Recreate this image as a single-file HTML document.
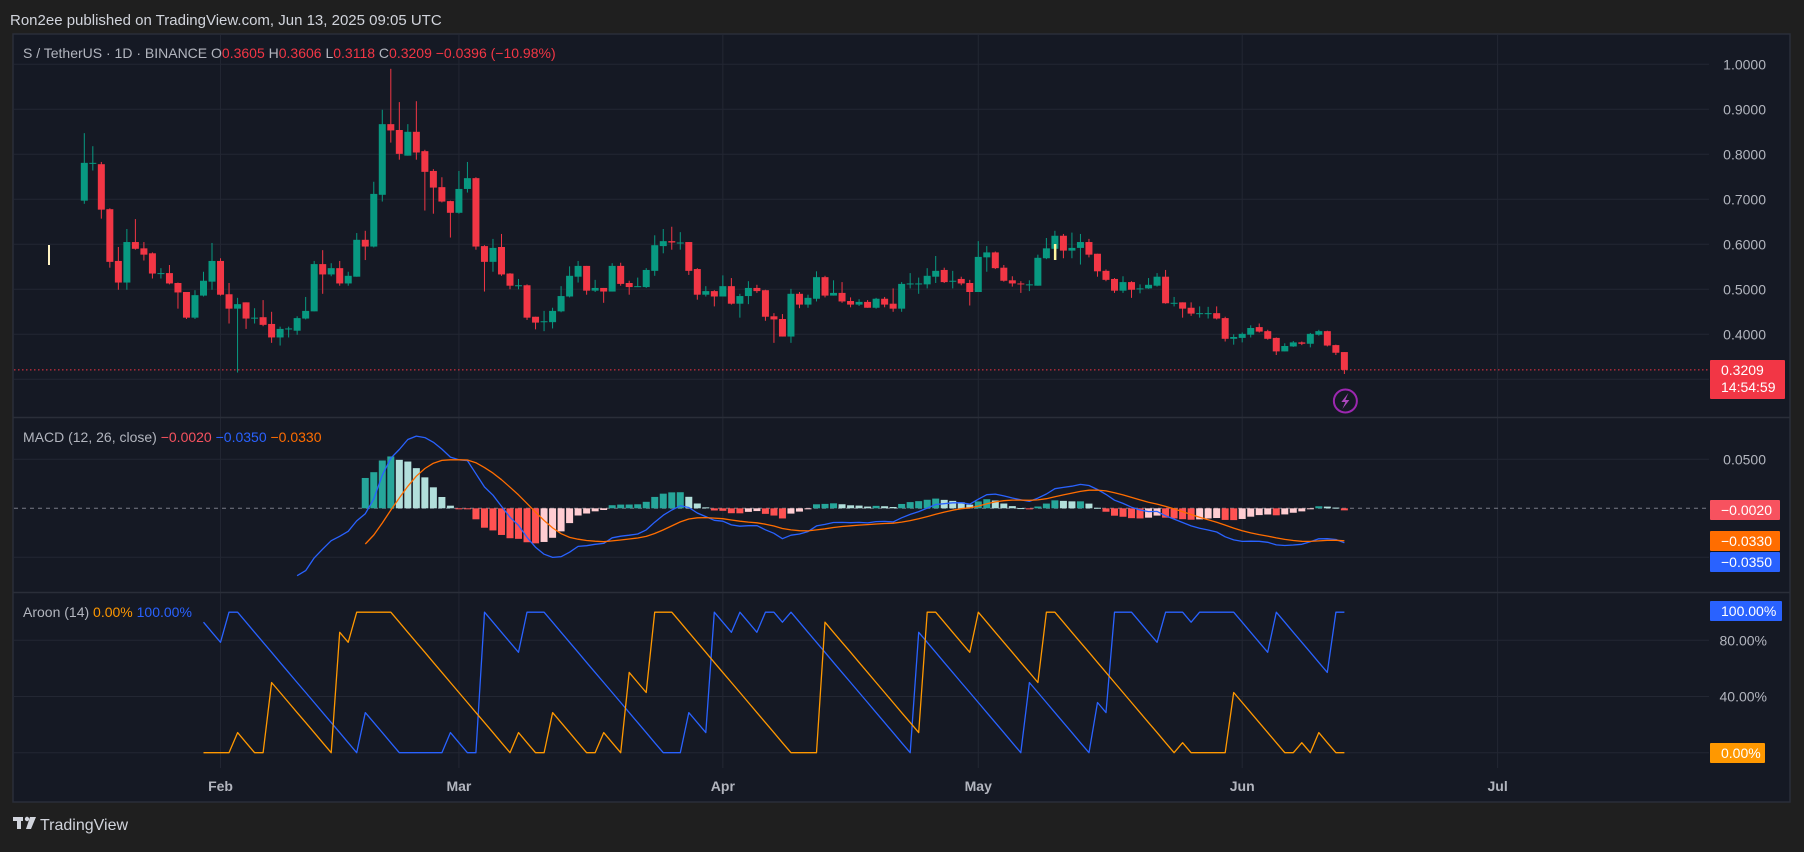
<!DOCTYPE html>
<html><head><meta charset="utf-8">
<style>
html,body{margin:0;padding:0;background:#1f1f1f;}
body{width:1804px;height:847px;overflow:hidden;font-family:"Liberation Sans",sans-serif;}
svg text{font-family:"Liberation Sans",sans-serif;}
</style></head>
<body>
<svg id="chart" width="1804" height="847" viewBox="0 0 1804 847" xmlns="http://www.w3.org/2000/svg">
<rect x="0" y="0" width="1804" height="847" fill="#1f1f1f"/>
<text x="10" y="25" fill="#d1d4dc" font-size="15">Ron2ee published on TradingView.com, Jun 13, 2025 09:05 UTC</text>
<rect x="13" y="34" width="1777" height="768" fill="#151924" stroke="#2a2e39" stroke-width="1.5"/>
<g id="grid"></g>
<line x1="13" y1="417.5" x2="1790" y2="417.5" stroke="#2a2e39" stroke-width="1.5"/>
<line x1="13" y1="592.5" x2="1790" y2="592.5" stroke="#2a2e39" stroke-width="1.5"/>
<g id="price"></g>
<g id="macd"></g>
<g id="aroon"></g>
<g id="axes"></g>
<text x="23" y="58" font-size="14"><tspan fill="#b2b5be">S / TetherUS · 1D · BINANCE  O</tspan><tspan fill="#f23645">0.3605</tspan><tspan fill="#b2b5be">  H</tspan><tspan fill="#f23645">0.3606</tspan><tspan fill="#b2b5be">  L</tspan><tspan fill="#f23645">0.3118</tspan><tspan fill="#b2b5be">  C</tspan><tspan fill="#f23645">0.3209  −0.0396 (−10.98%)</tspan></text>
<text x="23" y="442" font-size="14"><tspan fill="#b2b5be">MACD (12, 26, close)  </tspan><tspan fill="#f7525f">−0.0020  </tspan><tspan fill="#2962ff">−0.0350  </tspan><tspan fill="#ff6d00">−0.0330</tspan></text>
<text x="23" y="617" font-size="14"><tspan fill="#b2b5be">Aroon (14)  </tspan><tspan fill="#ff9800">0.00%  </tspan><tspan fill="#2962ff">100.00%</tspan></text>
<g>
<rect x="13" y="817" width="10" height="4" fill="#d1d4dc"/><rect x="17" y="817" width="4" height="12" fill="#d1d4dc"/><circle cx="27" cy="819" r="2.2" fill="#d1d4dc"/><polygon points="30,817 36,817 31,829 26,829" fill="#d1d4dc"/>
<text x="40" y="830" fill="#d1d4dc" font-size="16">TradingView</text>
</g>
<rect x="48" y="245" width="2" height="20" fill="#fff3c4"/>
</svg>
<script>
const opens=[.697,.780,.778,.678,.563,.515,.605,.591,.580,.536,
.536,.514,.494,.437,.486,.517,.563,.489,.457,.471,
.437,.438,.423,.393,.413,.408,.435,.451,.556,.533,
.547,.513,.528,.610,.595,.710,.867,.854,.797,.850,
.807,.763,.727,.696,.670,.723,.747,.596,.561,.594,
.535,.509,.509,.439,.429,.427,.451,.484,.528,.552,
.497,.503,.495,.552,.514,.507,.505,.541,.596,.607,
.604,.605,.545,.488,.496,.484,.507,.468,.485,.503,
.498,.440,.434,.395,.490,.466,.479,.527,.486,.492,
.474,.466,.472,.459,.479,.468,.457,.513,.513,.511,
.528,.543,.519,.523,.514,.494,.571,.582,.548,.520,
.513,.511,.508,.569,.590,.619,.586,.592,.605,.579,
.541,.523,.497,.516,.502,.502,.508,.528,.470,.471,
.459,.447,.447,.447,.436,.390,.392,.399,.416,.407,
.392,.362,.373,.382,.379,.399,.407,.376,.3605];
const highs=[.847,.818,.783,.680,.594,.634,.656,.605,.582,.547,
.554,.515,.494,.498,.539,.603,.569,.514,.481,.471,
.458,.476,.450,.417,.417,.440,.483,.563,.587,.558,
.563,.539,.625,.630,.739,.899,.990,.916,.867,.918,
.810,.767,.749,.697,.763,.783,.749,.598,.612,.623,
.536,.523,.511,.439,.452,.459,.507,.551,.563,.552,
.521,.503,.558,.559,.519,.526,.547,.620,.634,.639,
.627,.605,.547,.507,.498,.531,.525,.490,.518,.510,
.499,.447,.445,.501,.494,.488,.540,.530,.520,.516,
.482,.478,.476,.481,.483,.502,.516,.536,.526,.547,
.574,.548,.541,.528,.521,.607,.596,.584,.554,.529,
.518,.520,.577,.614,.630,.623,.626,.623,.612,.579,
.544,.525,.529,.518,.511,.525,.536,.543,.483,.471,
.471,.462,.461,.462,.439,.400,.404,.420,.424,.410,
.393,.380,.385,.384,.403,.410,.408,.377,.3606];
const lows=[.690,.764,.657,.548,.499,.499,.588,.564,.524,.524,
.511,.457,.434,.434,.484,.499,.486,.424,.315,.412,
.424,.418,.381,.375,.393,.399,.433,.451,.490,.529,
.508,.508,.528,.565,.593,.695,.826,.788,.797,.788,
.675,.668,.693,.615,.668,.715,.588,.495,.539,.530,
.500,.500,.432,.411,.407,.413,.449,.482,.515,.488,
.494,.470,.495,.508,.488,.505,.503,.530,.580,.588,
.588,.532,.477,.484,.462,.484,.466,.437,.467,.492,
.430,.381,.395,.381,.458,.459,.473,.482,.486,.470,
.460,.463,.459,.457,.460,.450,.450,.502,.490,.502,
.514,.514,.502,.509,.464,.494,.539,.545,.517,.506,
.492,.496,.508,.567,.590,.569,.569,.555,.571,.528,
.518,.492,.492,.481,.491,.501,.506,.468,.462,.437,
.441,.437,.435,.433,.384,.377,.382,.393,.404,.388,
.354,.362,.372,.376,.371,.397,.373,.354,.3118];
const closes=[.781,.781,.677,.561,.515,.605,.590,.577,.535,.536,
.513,.493,.437,.487,.519,.563,.488,.457,.467,.435,
.437,.421,.393,.412,.413,.436,.452,.556,.533,.547,
.513,.530,.610,.595,.712,.867,.853,.801,.850,.804,
.761,.726,.695,.670,.723,.747,.595,.561,.592,.533,
.508,.509,.437,.426,.429,.452,.485,.530,.552,.497,
.503,.495,.552,.512,.505,.507,.543,.598,.607,.604,
.604,.541,.488,.496,.484,.507,.468,.485,.503,.496,
.439,.433,.395,.490,.466,.481,.527,.486,.492,.473,
.466,.472,.459,.479,.466,.457,.512,.513,.513,.530,
.541,.516,.519,.513,.494,.572,.582,.547,.519,.513,
.511,.511,.570,.591,.619,.586,.592,.605,.577,.540,
.521,.497,.516,.499,.502,.510,.528,.469,.470,.457,
.446,.447,.447,.435,.390,.394,.401,.414,.406,.390,
.362,.374,.382,.379,.401,.407,.375,.359,.3209];
const priceTicks=[1.0,0.9,0.8,0.7,0.6,0.5,0.4];
const priceTickLabels=["1.0000","0.9000","0.8000","0.7000","0.6000","0.5000","0.4000"];
const macdTicks=[0.05,-0.05];
const macdTickLabels=["0.0500",""];
const aroonTicks=[80,40,0];
const aroonTickLabels=["80.00%","40.00%",""];
const monthLabels=["Feb","Mar","Apr","May","Jun","Jul"];
const monthIdx=[16,44,75,105,136,166];

const NS="http://www.w3.org/2000/svg";
function mk(tag,attrs,parent){const e=document.createElementNS(NS,tag);for(const k in attrs)e.setAttribute(k,attrs[k]);parent.appendChild(e);return e;}
const xOf=i=>84.3+i*8.514;
const yP=p=>64.3+(1-p)*450;
const yM=v=>508.3-v*980;
const yA=v=>752.7-v*1.405;
const PR=1709;
const grid=document.getElementById('grid'),gP=document.getElementById('price'),gM=document.getElementById('macd'),gA=document.getElementById('aroon'),ax=document.getElementById('axes');

// grid lines
monthIdx.forEach((m,i)=>{const l=mk('line',{x1:xOf(m),x2:xOf(m),y1:35,y2:768,stroke:'#232733','stroke-width':1},grid);


const t=mk('text',{x:xOf(m),y:791,'text-anchor':'middle',fill:'#b2b5be','font-size':14,'font-weight':'bold'},ax);t.textContent=monthLabels[i];

});
[0.3].concat(priceTicks).forEach(p=>{const l=mk('line',{x1:14,x2:PR,y1:yP(p),y2:yP(p),stroke:'#232733','stroke-width':1},grid);

});
priceTicks.forEach((p,i)=>{const t=mk('text',{x:1766,y:yP(p)+5,'text-anchor':'end',fill:'#b2b5be','font-size':14},ax);t.textContent=priceTickLabels[i];

});
macdTicks.forEach((v,i)=>{const l=mk('line',{x1:14,x2:PR,y1:yM(v),y2:yM(v),stroke:'#232733','stroke-width':1},grid);


if(macdTickLabels[i]){const t=mk('text',{x:1766,y:yM(v)+5,'text-anchor':'end',fill:'#b2b5be','font-size':14},ax);t.textContent=macdTickLabels[i];

}});
aroonTicks.forEach((v,i)=>{const l=mk('line',{x1:14,x2:PR,y1:yA(v),y2:yA(v),stroke:'#232733','stroke-width':1},grid);


if(aroonTickLabels[i]){const t=mk('text',{x:1767,y:yA(v)+5,'text-anchor':'end',fill:'#b2b5be','font-size':14},ax);t.textContent=aroonTickLabels[i];

}});

// candles
const n=closes.length;
for(let i=0;i<n;i++){const up=closes[i]>=opens[i];const col=up?'#089981':'#f23645';const x=xOf(i);
const w=mk('line',{x1:x,x2:x,y1:yP(highs[i]),y2:yP(lows[i]),stroke:col,'stroke-width':1},gP);


const top=yP(Math.max(opens[i],closes[i])),bot=yP(Math.min(opens[i],closes[i]));
const b=mk('rect',{x:x-3.5,y:top,width:7,height:Math.max(1,bot-top),fill:col},gP);

}
const hl=mk('rect',{x:xOf(114)-1,y:244,width:2.5,height:16,fill:'#fff59d'},gP);


const lastY=yP(closes[n-1]);
const pl=mk('line',{x1:14,x2:PR,y1:lastY,y2:lastY,stroke:'#f23645','stroke-width':1,'stroke-dasharray':'1.5 2.5'},gP);



// MACD
function ema(src,len){const out=new Array(src.length).fill(null);const a=2/(len+1);let prev=null,cnt=0,sum=0;
for(let i=0;i<src.length;i++){if(src[i]==null)continue;if(prev==null){sum+=src[i];cnt++;if(cnt===len){prev=sum/len;out[i]=prev;}}else{prev=a*src[i]+(1-a)*prev;out[i]=prev;}}return out;}
const e12=ema(closes,12),e26=ema(closes,26);
const macd=closes.map((c,i)=>e26[i]==null?null:e12[i]-e26[i]);
const sig=ema(macd,9);
const hist=macd.map((m,i)=>sig[i]==null?null:m-sig[i]);
const zl=mk('line',{x1:14,x2:PR,y1:yM(0),y2:yM(0),stroke:'#787b86','stroke-width':1,'stroke-dasharray':'4 4'},gM);


for(let i=0;i<n;i++){if(hist[i]==null)continue;const h=hist[i],p=i>0&&hist[i-1]!=null?hist[i-1]:0;
let col=h>=0?(h>=p?'#26a69a':'#b2dfdb'):(h<p?'#ff5252':'#ffcdd2');
const y0=yM(0),y1=yM(h);
const r=mk('rect',{x:xOf(i)-3.5,y:Math.min(y0,y1),width:7,height:Math.max(1,Math.abs(y1-y0)),fill:col},gM);

}
function poly(arr,yf,col,g,name){let d='';arr.forEach((v,i)=>{if(v==null)return;d+=(d?'L':'M')+xOf(i).toFixed(1)+','+yf(v).toFixed(1);});
const p=mk('path',{d:d,fill:'none',stroke:col,'stroke-width':1.3,'stroke-linejoin':'round'},g);

}
poly(macd,yM,'#2962ff',gM,'macd-line');
poly(sig,yM,'#ff6d00',gM,'signal-line');

// Aroon
const L=14,aUp=new Array(n).fill(null),aDn=new Array(n).fill(null);
for(let i=L;i<n;i++){let hi=-1,lo=-1,hv=-Infinity,lv=Infinity;for(let k=i-L;k<=i;k++){if(highs[k]>=hv){hv=highs[k];hi=k;}if(lows[k]<=lv){lv=lows[k];lo=k;}}
aUp[i]=100*(L-(i-hi))/L;aDn[i]=100*(L-(i-lo))/L;}
poly(aDn,yA,'#2962ff',gA,'aroon-down-line');
poly(aUp,yA,'#ff9800',gA,'aroon-up-line');

// axis value labels
function tag(y,h,w,bg,lines,name){const g=mk('g',{},ax);

mk('rect',{x:1710,y:y,width:w,height:h,fill:bg,rx:1},g);
lines.forEach((s,j)=>{const t=mk('text',{x:1721,y:y+15+j*17,fill:'#ffffff','font-size':14},g);t.textContent=s;});}
tag(360,39,75,'#f23645',['0.3209','14:54:59'],'last-price-tag');
tag(500,20,70,'#f7525f',['−0.0020'],'histogram-value-tag');
tag(531,20,70,'#ff6d00',['−0.0330'],'signal-value-tag');
tag(552,20,70,'#2962ff',['−0.0350'],'macd-value-tag');
tag(601,20,72,'#2962ff',['100.00%'],'aroon-down-tag');
tag(743,20,55,'#ff9800',['0.00%'],'aroon-up-tag');
// lightning icon
const li=mk('g',{},ax);


mk('circle',{cx:xOf(n-1)+1,cy:401,r:11.5,fill:'none',stroke:'#9c27b0','stroke-width':2},li);
mk('polygon',{points:`${xOf(n-1)+4},393 ${xOf(n-1)-3},402 ${xOf(n-1)+1},402 ${xOf(n-1)-2},409 ${xOf(n-1)+5},400 ${xOf(n-1)+1},400`,fill:'#ab47bc'},li);
</script>
</body></html>
